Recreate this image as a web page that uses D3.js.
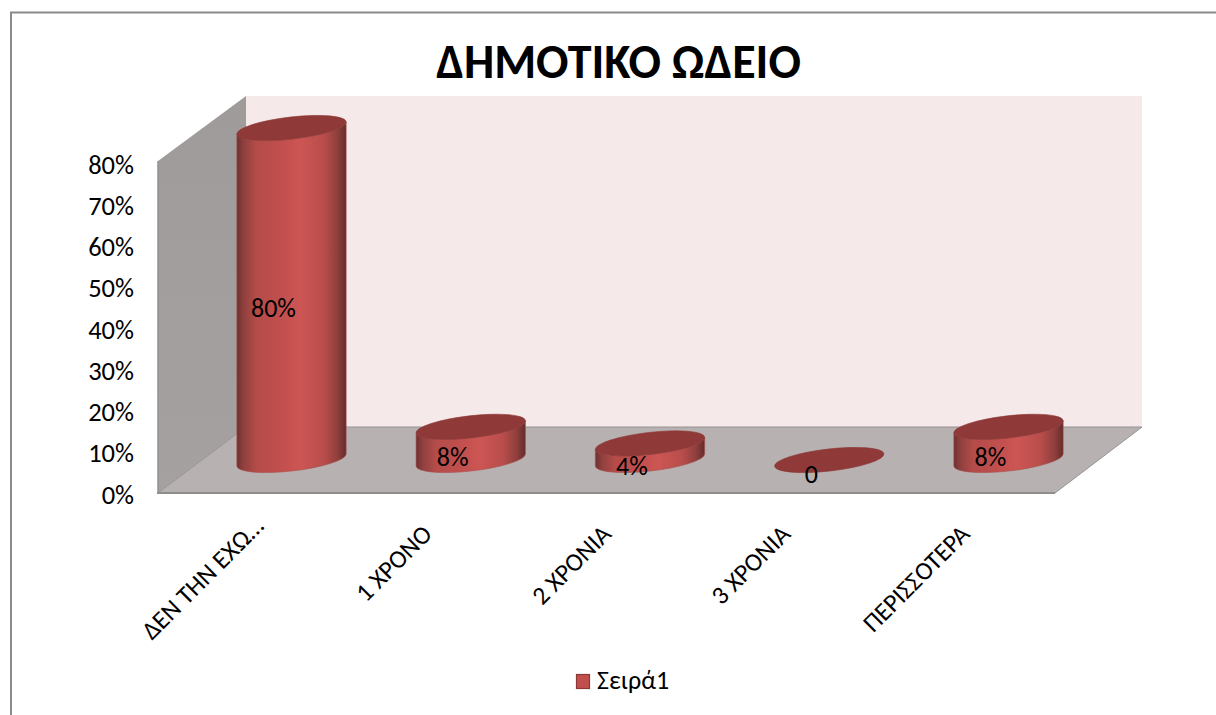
<!DOCTYPE html>
<html><head><meta charset="utf-8">
<script src="https://cdn.jsdelivr.net/npm/d3@7/dist/d3.min.js"></script>
<style>html,body{margin:0;padding:0;background:#fff}svg{display:block}text{font-family:Carlito,Lato,"Open Sans",sans-serif;fill:#000}</style>
</head><body><svg id="c" width="1216" height="715"></svg>
<script>
const title = "ΔΗΜΟΤΙΚΟ ΩΔΕΙΟ";
const categories = ["ΔΕΝ ΤΗΝ ΕΧΩ…","1 ΧΡΟΝΟ","2 ΧΡΟΝΙΑ","3 ΧΡΟΝΙΑ","ΠΕΡΙΣΣΟΤΕΡΑ"];
const values = [0.8,0.08,0.04,0,0.08];
const valueLabels = ["80%","8%","4%","0","8%"];
const tickValues = [0,0.1,0.2,0.3,0.4,0.5,0.6,0.7,0.8];
const seriesName = "Σειρά1";

const svg = d3.select("#c");
const W=1216,H=715;
const front={l:158,r:1055,b:493,t:161}, dx=88, dyTop=-65, dyBot=-66;
const yAxis=d3.scaleLinear().domain([0,0.8]).range([front.b+1,164]);
const yBar=d3.scaleLinear().domain([0,0.8]).range([460,128]);
const x=d3.scalePoint().domain(categories).range([291.5,1008.5]);
const rows=categories.map((c,i)=>({c,v:values[i],label:valueLabels[i]}));

const defs=svg.append("defs");
const g=defs.append("linearGradient").attr("id","cyl").attr("x1",0).attr("x2",1).attr("y1",0).attr("y2",0);
[[0,"#6d3130"],[0.06,"#8f403e"],[0.18,"#b44c4a"],[0.4,"#c04f4d"],[0.58,"#cd5654"],[0.8,"#b74d4b"],[0.92,"#8f3f3d"],[1,"#642c2b"]]
 .forEach(s=>g.append("stop").attr("offset",s[0]).attr("stop-color",s[1]));
const wg=defs.append("linearGradient").attr("id","wall").attr("x1",0).attr("x2",0).attr("y1",0).attr("y2",1);
wg.append("stop").attr("offset",0).attr("stop-color","#a09b9b");
wg.append("stop").attr("offset",1).attr("stop-color","#a5a1a1");

svg.append("path").attr("d",`M11,715V12.5H${W}`).attr("fill","none").attr("stroke","#8a8a8a").attr("stroke-width",2);

const line=d3.line();
svg.append("path").attr("d",line([[front.l+dx,front.t+dyTop],[front.r+dx-1,front.t+dyTop],[front.r+dx-1,front.b+dyBot],[front.l+dx,front.b+dyBot]])+"Z").attr("fill","#f5e9e9");
svg.append("path").attr("d",line([[front.l,front.t],[front.l+dx,front.t+dyTop],[front.l+dx,front.b+dyBot],[front.l,front.b]])+"Z").attr("fill","url(#wall)");
svg.append("path").attr("d",line([[front.l,front.t],[front.l,front.b]])).attr("stroke","#8f9093").attr("stroke-width",1.5);
svg.append("path").attr("d",line([[front.l,front.b],[front.r,front.b],[front.r+dx-1,front.b+dyBot],[front.l+dx,front.b+dyBot]])+"Z").attr("fill","#b8b1b1");
svg.append("path").attr("d",line([[front.l,front.b],[front.l+dx,front.b+dyBot],[front.r+dx-1,front.b+dyBot],[front.r,front.b]])).attr("fill","none").attr("stroke","#969393").attr("stroke-width",1);
svg.append("path").attr("d",line([[front.l-1,front.b],[front.r,front.b]])).attr("stroke","#8e8e8e").attr("stroke-width",2);

const ax=svg.append("g").attr("transform","translate(134,0)").call(d3.axisLeft(yAxis).tickValues(tickValues).tickFormat(d3.format(".0%")).tickSize(0).tickPadding(0));
ax.select(".domain").remove();
ax.selectAll("text").attr("font-size",26.5).attr("dy","0.34em").style("font-family","Carlito,Lato,'Open Sans',sans-serif");

const rx=55, ry=11, rot=-6.5, a=rot*Math.PI/180;
const t0=Math.atan2(-ry*Math.sin(a),rx*Math.cos(a));
const ex=rx*Math.cos(t0)*Math.cos(a)-ry*Math.sin(t0)*Math.sin(a);
const ey=rx*Math.cos(t0)*Math.sin(a)+ry*Math.sin(t0)*Math.cos(a);
const bars=svg.append("g").selectAll("g").data(rows).join("g");
bars.filter(d=>d.v>0).append("path")
 .attr("d",d=>{const c=x(d.c),t=yBar(d.v),b=yBar(0);
   return `M${c-ex},${t-ey}L${c-ex},${b-ey}A${rx},${ry},${rot},0,0,${c+ex},${b+ey}L${c+ex},${t+ey}A${rx},${ry},${rot},0,1,${c-ex},${t-ey}Z`;})
 .attr("fill","url(#cyl)").attr("stroke","#a8504e").attr("stroke-width",0.6);
bars.append("ellipse")
 .attr("rx",rx).attr("ry",ry)
 .attr("transform",d=>`translate(${x(d.c)},${yBar(d.v)}) rotate(${rot})`)
 .attr("fill","#8f3a38").attr("stroke","#8a3634").attr("stroke-width",0.6);
bars.append("text").text(d=>d.label)
 .attr("x",d=>x(d.c)-18)
 .attr("y",d=>(yBar(d.v)+yBar(0))/2+14).attr("dy","0.34em")
 .attr("text-anchor","middle").attr("font-size",26);

// truncated labels sit a little further along the axis, as in the original
const cut=d=>d.endsWith("…");
svg.append("g").selectAll("text").data(categories).join("text").text(d=>d)
 .attr("text-anchor","end").attr("font-size",25.5)
 .attr("transform",d=>`translate(${x(d)-50+(cut(d)?11:0)},${523-(cut(d)?8:0)}) rotate(-45)`)
 .attr("dy","0.7em");

svg.append("text").text(title).attr("x",618.5).attr("y",78).attr("text-anchor","middle").attr("font-size",48).attr("font-weight",700);

svg.append("rect").attr("x",576.5).attr("y",674.5).attr("width",13).attr("height",14).attr("fill","#c0504d").attr("stroke","#8c3836").attr("stroke-width",1.2);
svg.append("text").text(seriesName).attr("x",597).attr("y",689).attr("font-size",26);
</script></body></html>
